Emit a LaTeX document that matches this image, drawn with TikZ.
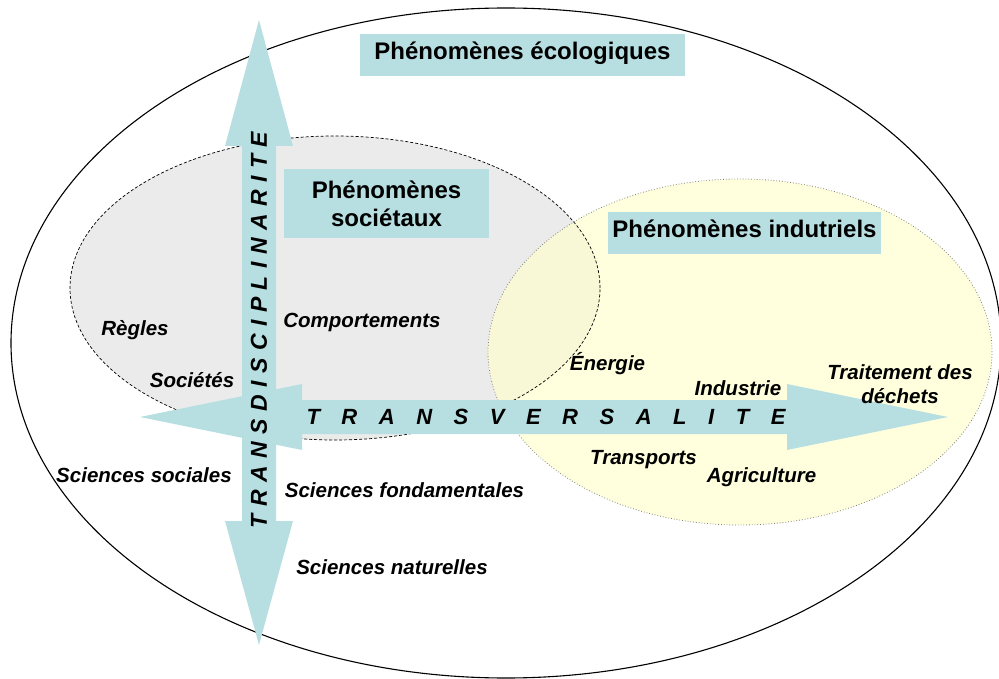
\documentclass[tikz,border=0pt]{standalone}
\usepackage{fontspec}
\setmainfont{Liberation Sans}
\definecolor{arrowBlue}{HTML}{B7DFE1}
\definecolor{societyGrey}{HTML}{EBEBEB}
\definecolor{industryYellow}{HTML}{FFFFCC}
\tikzstyle{titleBox}=[fill = arrowBlue, inner sep = 0pt, font = \fontsize{24}{28}\selectfont\bfseries, align = center]
\tikzstyle{domainLabel}=[inner sep = 0pt, font = \fontsize{20.5}{24}\selectfont\bfseries\itshape, align = center]
\tikzstyle{axisLabel}=[inner sep = 0pt, font = \fontsize{22}{24}\selectfont\bfseries\itshape]

\begin{document}
\begin{tikzpicture}[x = 1pt, y = -1pt]
\tikzstyle{arrowStyle} = [fill = arrowBlue]
\useasboundingbox (0,0) rectangle (999,679);
\fill[societyGrey] (335,288) ellipse (265pt and 152pt);
\fill[industryYellow, fill opacity = 0.65] (740,352) ellipse (252pt and 173pt);
\draw[line width = 0.7pt, dash pattern = on 3pt off 2pt] (335,288) ellipse (265pt and 152pt);
\draw[gray, line width = 0.8pt, dotted] (740,352) ellipse (252pt and 173pt);
\draw[line width = 1.1pt] (506,343) ellipse (495pt and 335pt);
\fill[arrowStyle] (259,20) -- (293,146) -- (276,146) -- (276,521) -- (293,521) -- (259,645) -- (225,521) -- (242,521) -- (242,146) -- (225,146) -- cycle;
\fill[arrowStyle] (140,417) -- (302,384) -- (302,400) -- (787,400) -- (787,384) -- (948,417) -- (787,450) -- (787,434) -- (302,434) -- (302,450) -- cycle;
\node[axisLabel, font = \fontsize{23}{24}\selectfont\bfseries\itshape\addfontfeature{LetterSpace = 32.5}, rotate = 90] (trans) at (259,330) {TRANSDISCIPLINARITE};
\node[axisLabel, font = \fontsize{22}{24}\selectfont\bfseries\itshape\addfontfeature{LetterSpace = 70}] (transv) at (546,417) {T R A N S V E R S A L I T E};
\node[titleBox, minimum width = 325pt, minimum height = 42pt, text height = 17pt, text depth = 7pt] (eco) at (522.5,55) {Phénomènes écologiques};
\node[titleBox, minimum width = 205pt, minimum height = 69pt] (soc) at (386.5,203.5) {Phénomènes\\sociétaux};
\node[titleBox, minimum width = 273pt, minimum height = 42pt, text height = 17pt, text depth = 7pt] (ind) at (744.5,233) {Phénomènes indutriels};
\node[domainLabel, anchor = base] (regles) at (135,335) {Règles};
\node[domainLabel, anchor = base] (societes) at (192,387) {Sociétés};
\node[domainLabel, anchor = base] (comport) at (362,327) {Comportements};
\node[domainLabel, anchor = base] (sciSoc) at (144,482) {Sciences sociales};
\node[domainLabel, anchor = base] (sciFond) at (404.5,497) {Sciences fondamentales};
\node[domainLabel, anchor = base] (sciNat) at (392,574) {Sciences naturelles};
\node[domainLabel, anchor = base] (energie) at (607.5,370) {Énergie};
\node[domainLabel, anchor = base] (industrie) at (738,395) {Industrie};
\node[domainLabel] (dechets) at (900,384) {Traitement des\\déchets};
\node[domainLabel, anchor = base] (transports) at (643.5,464) {Transports};
\node[domainLabel, anchor = base] (agri) at (761.5,482) {Agriculture};
%
\end{tikzpicture}
\end{document}
